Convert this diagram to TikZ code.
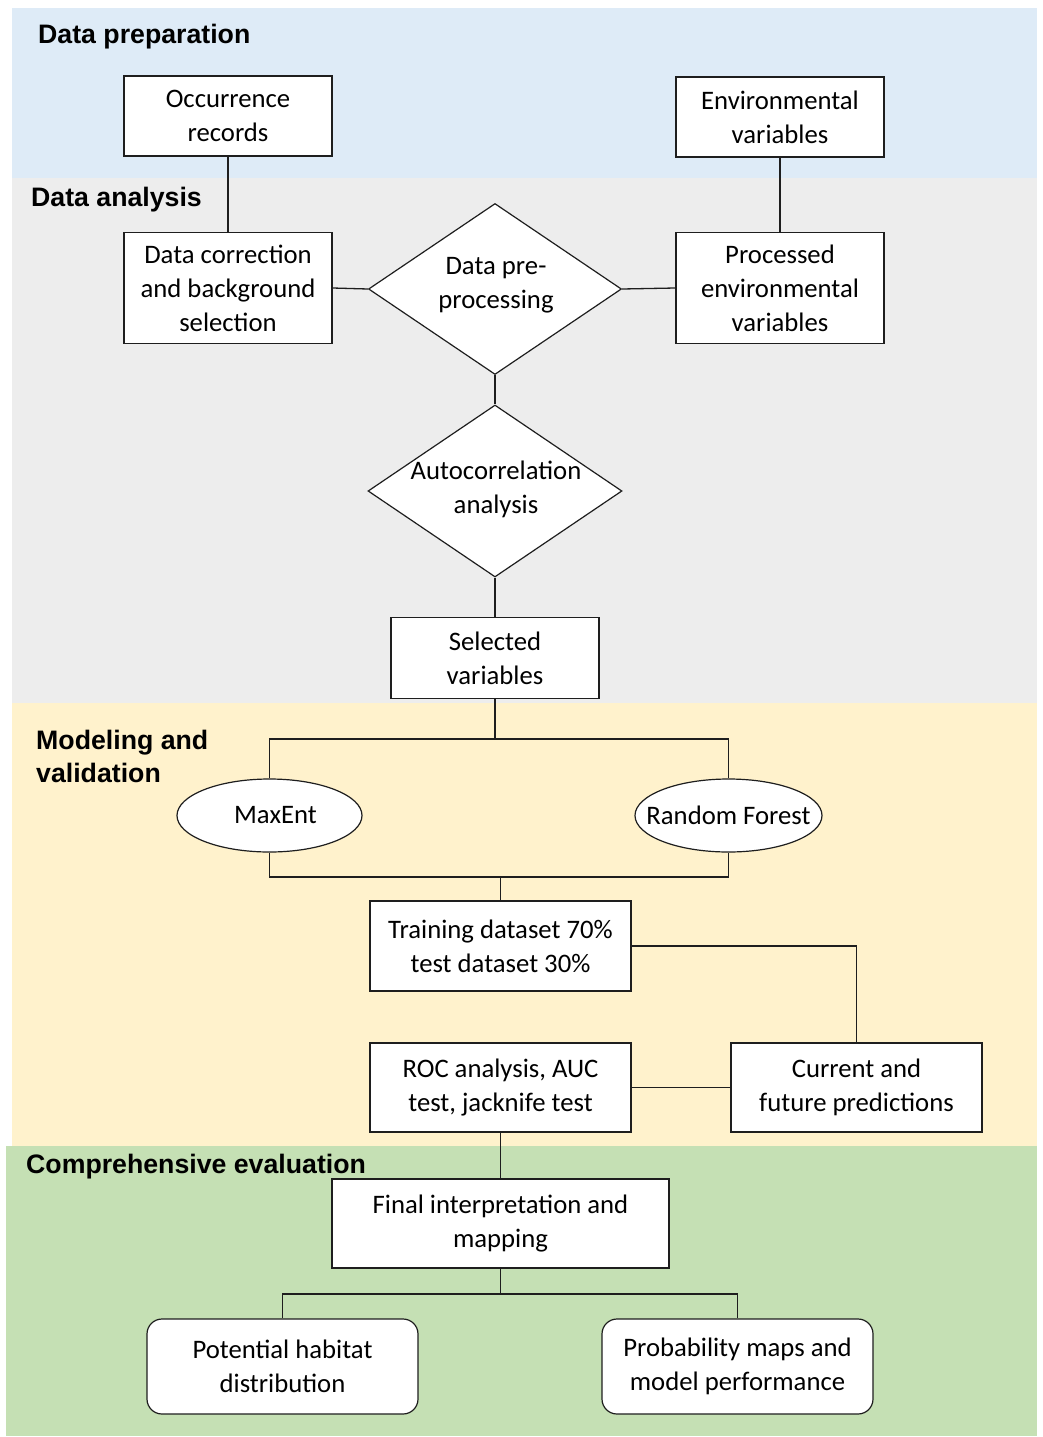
\documentclass[tikz,border=0pt]{standalone}
\usepackage{fontspec}
\setmainfont{Carlito}
\newfontfamily\headfont{Liberation Sans}
\usetikzlibrary{shapes.geometric}
\definecolor{bandblue}{RGB}{222,235,247}
\definecolor{bandgray}{RGB}{237,237,237}
\definecolor{bandyellow}{RGB}{255,242,204}
\definecolor{bandgreen}{RGB}{197,224,180}
\definecolor{edgecol}{RGB}{30,30,30}
\tikzset{
  bodyfont/.style={font=\fontsize{26.7}{34}\selectfont},
  headlbl/.style={font=\headfont\bfseries\fontsize{26.7}{33}\selectfont, anchor=base west, inner sep=0, align=left},
  box/.style={draw=edgecol, fill=white, line width=1.2pt, rectangle, inner sep=0, align=center, bodyfont},
  rbox/.style={box, rounded corners=15pt},
  dia/.style={draw=edgecol, fill=white, line width=1.2pt, diamond, inner sep=0},
  diatext/.style={inner sep=0, align=center, bodyfont},
  ell/.style={draw=edgecol, fill=white, line width=1.2pt, ellipse, inner sep=0, bodyfont},
  conn/.style={draw=edgecol, line width=1.3pt}
}
\begin{document}
\begin{tikzpicture}[x=1pt,y=-1pt]
\useasboundingbox (0,0) rectangle (1042,1437);
% bands
\fill[bandblue] (12,8) rectangle (1037,178);
\fill[bandgray] (12,178) rectangle (1037,703);
\fill[bandyellow] (12,703) rectangle (1037,1146);
\fill[bandgreen] (6,1146) rectangle (1037,1436);
% headings
\node[headlbl] (h1) at (38,44) {Data preparation};
\node[headlbl] (h2) at (31,206) {Data analysis};
\node[headlbl] (h3) at (36,749) {Modeling and};
\node[headlbl] (h3b) at (36,782) {validation};
\node[headlbl] (h4) at (26,1173) {Comprehensive evaluation};
% nodes
\node[box, minimum width=208, minimum height=80] (occ) at (228,116) {Occurrence\\records};
\node[box, minimum width=208, minimum height=80] (env) at (780,117) {Environmental\\variables};
\node[box, minimum width=208, minimum height=111] (dc) at (228,288) {Data correction\\and background\\selection};
\node[dia, minimum width=253, minimum height=171] (dpp) at (495,289) {};
\node[diatext] (dpptext) at (496,285) {Data pre-\\processing};
\node[box, minimum width=208, minimum height=111] (pev) at (780,288) {Processed\\environmental\\variables};
\node[dia, minimum width=254, minimum height=172] (auto) at (495,491) {};
\node[diatext] (autotext) at (496,489) {Autocorrelation\\analysis};
\node[box, minimum width=208, minimum height=81] (sel) at (495,658) {Selected\\variables};
\node[ell, minimum width=185, minimum height=73] (maxent) at (269.5,815.5) {\makebox[0pt]{\hspace{12pt}MaxEnt}};
\node[ell, minimum width=187, minimum height=73] (rf) at (728.5,815.5) {\makebox[0pt]{Random Forest}};
\node[box, minimum width=261, minimum height=90] (train) at (500.5,946) {Training dataset 70\%\\test dataset 30\%};
\node[box, minimum width=261, minimum height=89] (roc) at (500.5,1087.5) {ROC analysis, AUC\\test, jacknife test};
\node[box, minimum width=251, minimum height=89] (cur) at (856.5,1087.5) {Current and\\future predictions};
\node[box, minimum width=337, minimum height=89] (final) at (500.5,1223.5) {Final interpretation and\\mapping};
\node[rbox, minimum width=271, minimum height=95] (pot) at (282.5,1366.5) {Potential habitat\\distribution};
\node[rbox, minimum width=271, minimum height=95] (prob) at (737.5,1366.5) {Probability maps and\\model performance};
% junctions
\coordinate (j1) at (495,739);
\coordinate (j2) at (500.5,877);
\coordinate (j3) at (500.5,1294);
% connectors
\draw[conn] (occ) -- (dc);
\draw[conn] (env) -- (pev);
\draw[conn] (dc.east) -- (dpp.west);
\draw[conn] (dpp.east) -- (pev.west);
\draw[conn] (dpp.south) -- (auto.north);
\draw[conn] (auto.south) -- (sel.north);
\draw[conn] (sel.south) -- (j1);
\draw[conn] (maxent.north) |- (j1) -| (rf.north);
\draw[conn] (maxent.south) |- (j2) -| (rf.south);
\draw[conn] (j2) -- (train.north);
\draw[conn] (train.east) -| (cur.north);
\draw[conn] (roc.east) -- (cur.west);
\draw[conn] (roc.south) -- (final.north);
\draw[conn] (final.south) -- (j3);
\draw[conn] (pot.north) |- (j3) -| (prob.north);
\end{tikzpicture}
\end{document}
